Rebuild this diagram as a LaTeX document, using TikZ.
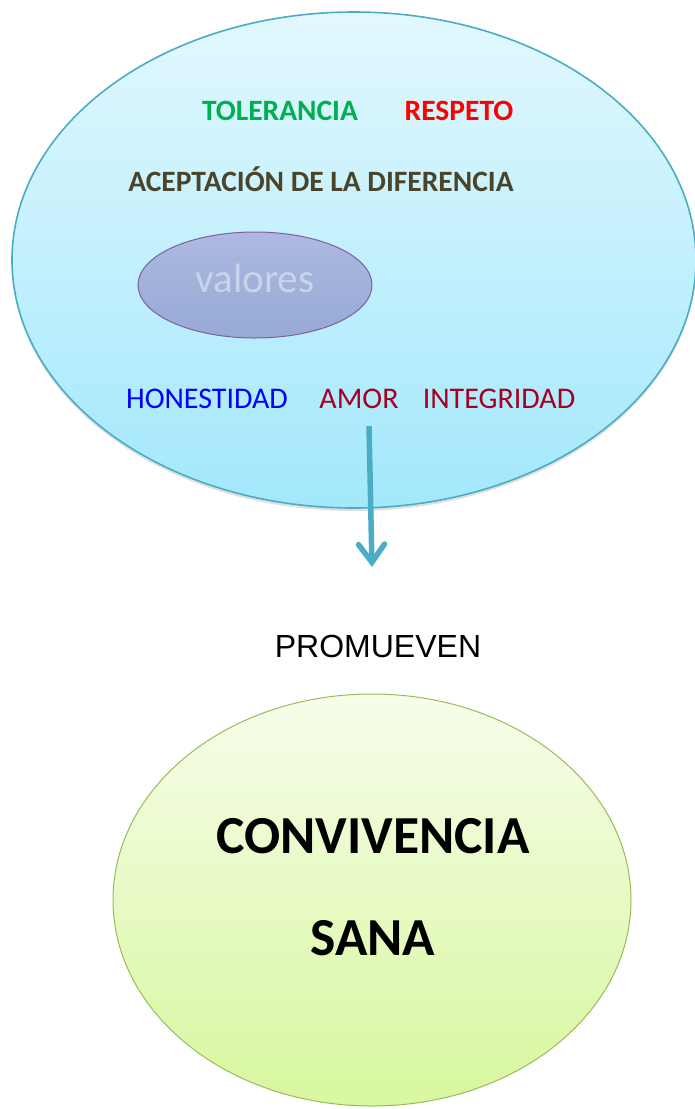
\documentclass[tikz,border=0pt]{standalone}
\usepackage{fontspec}
\setmainfont{Carlito}
\newfontfamily\arialfont{Liberation Sans}
\usetikzlibrary{shapes.geometric,arrows.meta,shadows}

\definecolor{skyline}{HTML}{4BACC6}
\definecolor{skytop}{HTML}{E2F8FE}
\definecolor{skybottom}{HTML}{A3E8FC}
\definecolor{lilatop}{HTML}{ADB9E0}
\definecolor{lilabottom}{HTML}{95AAD5}
\definecolor{lilaline}{HTML}{7F5FA2}
\definecolor{limetop}{HTML}{F6FDEA}
\definecolor{limebottom}{HTML}{D8F79E}
\definecolor{limeline}{HTML}{9BBB59}
\definecolor{tolgreen}{HTML}{00B050}
\definecolor{acepbrown}{HTML}{4A452A}
\definecolor{amorred}{HTML}{A50021}
\definecolor{valtext}{HTML}{C9D3EC}

\tikzset{
  blob/.style={ellipse, inner sep=0pt, shading=axis},
  word/.style={inner sep=0pt, font=\fontsize{30}{34}\selectfont},
  bigword/.style={inner sep=0pt, font=\fontsize{29.5}{34}\selectfont\bfseries},
}

\begin{document}
\begin{tikzpicture}[x=1pt, y=-1pt]
	        \useasboundingbox (0, 0) rectangle (695, 1109);

	        % ellipses
	        \node [blob, draw=skyline, line width=1.6pt, top color=skytop, bottom color=skybottom,
	               minimum width=684pt, minimum height=496pt,
	               drop shadow={shadow xshift=0pt, shadow yshift=-3pt, opacity=0.25}] at (354, 260) (valbox) {};
	        \node [blob, draw=lilaline, line width=1pt, top color=lilatop, bottom color=lilabottom,
	               minimum width=234pt, minimum height=106pt, text=valtext,
	               font=\fontsize{41}{46}\selectfont] at (255, 285) (valores) {\raisebox{13pt}{valores}};
	        \node [blob, draw=limeline, line width=1pt, top color=limetop, bottom color=limebottom,
	               minimum width=518pt, minimum height=412pt] at (372, 900) (sana) {};

	        % words
	        \node [bigword, text=tolgreen] at (280, 111) (tol) {TOLERANCIA};
	        \node [bigword, text=red] at (459, 111) (resp) {RESPETO};
	        \node [bigword, text=acepbrown] at (321, 179) (acep) {ACEPTACIÓN DE LA DIFERENCIA};
	        \node [word, text=blue] at (207, 399) (hon) {HONESTIDAD};
	        \node [word, text=amorred] at (359, 399) (amor) {AMOR};
	        \node [word, text=amorred] at (499, 399) (integ) {INTEGRIDAD};
	        \node [inner sep=0pt, font=\arialfont\fontsize{32}{36}\selectfont] at (378, 646) (prom) {PROMUEVEN};
	        \node [inner sep=0pt, font=\fontsize{53.5}{60}\selectfont\bfseries] at (373, 836) (conv) {CONVIVENCIA};
	        \node [inner sep=0pt, font=\fontsize{53.5}{60}\selectfont\bfseries] at (373, 938) (sanaword) {SANA};

	        \coordinate (from) at (369, 426);
	        \coordinate (to) at (372, 567);
	        \draw [skyline, line width=5.5pt, -{Straight Barb[length=18pt, width=26pt, line cap=round]}] (from) -- (to);
        \end{tikzpicture}
\end{document}
